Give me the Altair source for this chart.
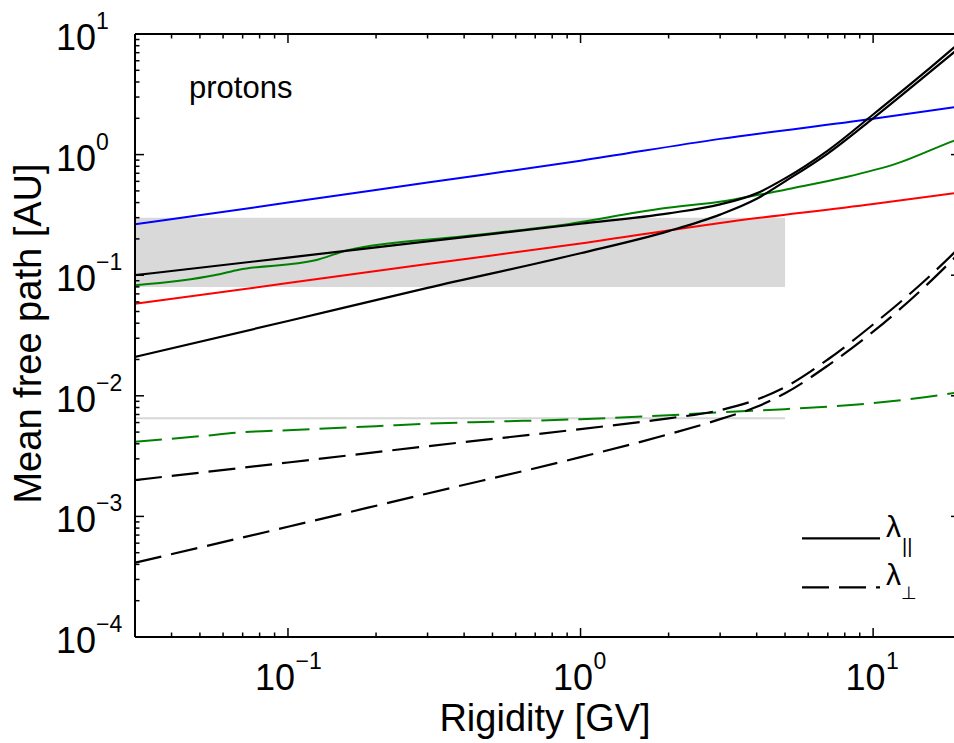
import altair as alt
import pandas as pd

FONT = "Liberation Sans"

# ---------------- data ----------------
X_BLUE = [0.03, 0.1, 0.3, 1, 3, 10, 20]
Y_BLUE = [0.264, 0.40, 0.586, 0.89, 1.35, 1.98, 2.52]

X_RED = [0.03, 0.1, 0.3, 1, 3, 10, 20]
Y_RED = [0.058, 0.086, 0.124, 0.183, 0.271, 0.389, 0.488]

X_PAR = [0.03, 0.1, 0.3, 1, 2, 3, 4, 5, 7, 10, 15, 20]
Y_PAR_A = [0.100, 0.140, 0.191, 0.267, 0.326, 0.387, 0.477, 0.635, 1.08, 2.15, 4.80, 8.7]
Y_PAR_B = [0.021, 0.0417, 0.0785, 0.152, 0.232, 0.318, 0.43, 0.600, 1.02, 2.00, 4.45, 7.9]

X_GREEN = [0.03, 0.056, 0.068, 0.124, 0.16, 0.4, 0.85, 1.87, 3.16, 5.2, 8.1, 12, 19, 20]
Y_GREEN = [0.0824, 0.0998, 0.111, 0.133, 0.161, 0.210, 0.259, 0.355, 0.415, 0.522, 0.651, 0.841, 1.31, 1.37]

X_GREEN_PERP = [0.03, 0.05, 0.07, 0.1, 0.2, 0.3, 0.5, 1, 2, 3, 5, 10, 15, 20]
Y_GREEN_PERP = [0.00415, 0.00462, 0.00499, 0.00519, 0.0056, 0.00588, 0.0061, 0.0064,
                0.0069, 0.00731, 0.00775, 0.00869, 0.00973, 0.0108]

X_PERP = [0.03, 0.1, 0.3, 1, 2, 3, 4, 5, 7, 10, 15, 20]
Y_PERP_C = [0.0020, 0.0028, 0.00382, 0.0053, 0.0065, 0.0076, 0.0093, 0.0118, 0.020, 0.039, 0.090, 0.175]
Y_PERP_D = [0.000413, 0.00082, 0.00155, 0.0031, 0.0048, 0.0064, 0.0081, 0.0105, 0.0178, 0.034, 0.080, 0.158]

BAND_X = [0.03, 5]
BAND_Y = [0.08, 0.3]
HLINE_X = [0.03, 5]
HLINE_Y = [0.0065, 0.0065]

X_DECADES = [0.1, 1, 10]
X_EXPONENTS = ["\u22121", "0", "1"]
Y_DECADES = [1e-4, 1e-3, 1e-2, 1e-1, 1, 10]
Y_EXPONENTS = ["\u22124", "\u22123", "\u22122", "\u22121", "0", "1"]
X_MINOR = [0.04, 0.05, 0.06, 0.07, 0.08, 0.09, 0.2, 0.3, 0.4, 0.5, 0.6, 0.7, 0.8, 0.9,
           2, 3, 4, 5, 6, 7, 8, 9]
Y_MINOR = [m * 10.0 ** k for k in range(-4, 1) for m in range(2, 10)]

# ---------------- layout ----------------
W, H = 819, 603
XS = alt.Scale(type="log", domain=[0.03, 18.9], nice=False)
YS = alt.Scale(type="log", domain=[1e-4, 10], nice=False)

XAXIS = alt.Axis(title="Rigidity [GV]", labels=False, ticks=False, domain=False, grid=False,
                 titleFont=FONT, titleFontSize=38, titleFontWeight="normal", titleColor="black",
                 titleX=409.5, titleY=93, titleAlign="center", titleBaseline="alphabetic")
YAXIS = alt.Axis(title="Mean free path [AU]", labels=False, ticks=False, domain=False, grid=False,
                 titleFont=FONT, titleFontSize=38, titleFontWeight="normal", titleColor="black",
                 titleAngle=270, titleX=-95, titleY=299, titleAlign="center",
                 titleBaseline="alphabetic")


def XE(f):
    return alt.X(f"{f}:Q", scale=XS, axis=XAXIS)


def YE(f):
    return alt.Y(f"{f}:Q", scale=YS, axis=YAXIS)


def line(xs, ys, color, dash=None, width=2):
    df = pd.DataFrame({"x": xs, "y": ys})
    kw = dict(color=color, strokeWidth=width, clip=True, interpolate="monotone")
    if dash:
        kw["strokeDash"] = dash
    return alt.Chart(df).mark_line(**kw).encode(x=XE("x"), y=YE("y"))


one = pd.DataFrame({"a": [0]})
layers = []

# gray band and gray reference line
band_df = pd.DataFrame({"x": [BAND_X[0]], "x2": [BAND_X[1]], "y": [BAND_Y[0]], "y2": [BAND_Y[1]]})
layers.append(alt.Chart(band_df).mark_rect(color="#d9d9d9").encode(
    x=XE("x"), x2="x2", y=YE("y"), y2="y2"))
layers.append(alt.Chart(pd.DataFrame({"x": HLINE_X, "y": HLINE_Y})).mark_line(
    color="#d6d6d6", strokeWidth=2).encode(x=XE("x"), y=YE("y")))

DASH = [27, 10]
layers.append(line(X_RED, Y_RED, "#ff0000"))
layers.append(line(X_BLUE, Y_BLUE, "#0000ff"))
layers.append(line(X_GREEN, Y_GREEN, "#008000"))
layers.append(line(X_GREEN_PERP, Y_GREEN_PERP, "#008000", DASH))
layers.append(line(X_PAR, Y_PAR_A, "black", width=2.2))
layers.append(line(X_PAR, Y_PAR_B, "black", width=2.2))
layers.append(line(X_PERP, Y_PERP_C, "black", DASH, width=2.2))
layers.append(line(X_PERP, Y_PERP_D, "black", DASH, width=2.2))

# frame (left, top, bottom)
layers.append(alt.Chart(one).mark_rule(color="black", strokeWidth=2).encode(
    x=alt.value(0), y=alt.value(0), y2=alt.value(H)))
layers.append(alt.Chart(one).mark_rule(color="black", strokeWidth=2).encode(
    x=alt.value(0), x2=alt.value(W), y=alt.value(0)))
layers.append(alt.Chart(one).mark_rule(color="black", strokeWidth=2).encode(
    x=alt.value(0), x2=alt.value(W), y=alt.value(H)))

# inward ticks
mx = pd.DataFrame({"v": X_DECADES})
nx = pd.DataFrame({"v": X_MINOR})
my = pd.DataFrame({"v": Y_DECADES})
ny = pd.DataFrame({"v": Y_MINOR})
TK = dict(color="black", strokeWidth=1.5)
layers.append(alt.Chart(mx).mark_rule(**TK).encode(x=XE("v"), y=alt.value(H), y2=alt.value(H - 9)))
layers.append(alt.Chart(nx).mark_rule(**TK).encode(x=XE("v"), y=alt.value(H), y2=alt.value(H - 4.5)))
layers.append(alt.Chart(mx).mark_rule(**TK).encode(x=XE("v"), y=alt.value(0), y2=alt.value(9)))
layers.append(alt.Chart(nx).mark_rule(**TK).encode(x=XE("v"), y=alt.value(0), y2=alt.value(4.5)))
layers.append(alt.Chart(my).mark_rule(**TK).encode(y=YE("v"), x=alt.value(0), x2=alt.value(9)))
layers.append(alt.Chart(ny).mark_rule(**TK).encode(y=YE("v"), x=alt.value(0), x2=alt.value(4.5)))
layers.append(alt.Chart(my).mark_rule(**TK).encode(y=YE("v"), x=alt.value(W - 3), x2=alt.value(W)))

# tick labels 10^n
xl = pd.DataFrame({"v": X_DECADES, "e": X_EXPONENTS})
xl_neg = xl[xl["e"].str.startswith("\u2212")]
xl_pos = xl[~xl["e"].str.startswith("\u2212")]
BASE_T = dict(font=FONT, color="black", baseline="alphabetic")
for sub, d10, dexp in ((xl_neg, 7, 7.5), (xl_pos, 12.5, 13)):
    layers.append(alt.Chart(sub).mark_text(align="right", fontSize=36, dx=d10, **BASE_T).encode(
        x=XE("v"), y=alt.value(H + 53), text=alt.value("10")))
    layers.append(alt.Chart(sub).mark_text(align="left", fontSize=23, dx=dexp, **BASE_T).encode(
        x=XE("v"), y=alt.value(H + 32), text="e:N"))

yl = pd.DataFrame({"v": Y_DECADES, "e": Y_EXPONENTS})
layers.append(alt.Chart(yl).mark_text(align="left", fontSize=36, dy=16, **BASE_T).encode(
    y=YE("v"), x=alt.value(-79), text=alt.value("10")))
layers.append(alt.Chart(yl).mark_text(align="left", fontSize=23, dy=-5, **BASE_T).encode(
    y=YE("v"), x=alt.value(-39), text="e:N"))

# annotation and legend
layers.append(alt.Chart(one).mark_text(align="left", fontSize=31, **BASE_T).encode(
    x=alt.value(54), y=alt.value(64), text=alt.value("protons")))
layers.append(alt.Chart(one).mark_rule(color="black", strokeWidth=2.2).encode(
    x=alt.value(667), x2=alt.value(745), y=alt.value(504.3)))
layers.append(alt.Chart(one).mark_rule(color="black", strokeWidth=2.2, strokeDash=DASH).encode(
    x=alt.value(667), x2=alt.value(745), y=alt.value(553.3)))
layers.append(alt.Chart(one).mark_text(align="left", fontSize=30, **BASE_T).encode(
    x=alt.value(751), y=alt.value(502.7), text=alt.value("\u03bb")))
layers.append(alt.Chart(one).mark_text(align="left", fontSize=20, **BASE_T).encode(
    x=alt.value(767), y=alt.value(519), text=alt.value("||")))
layers.append(alt.Chart(one).mark_text(align="left", fontSize=30, **BASE_T).encode(
    x=alt.value(751), y=alt.value(551), text=alt.value("\u03bb")))
layers.append(alt.Chart(one).mark_text(align="left", fontSize=18, font="DejaVu Sans", color="black",
                                       baseline="alphabetic").encode(
    x=alt.value(766), y=alt.value(565), text=alt.value("\u22a5")))

chart = alt.layer(*layers).properties(
    width=W, height=H,
    padding={"left": 135, "top": 34, "right": 0, "bottom": 106},
    autosize=alt.AutoSizeParams(type="none"),
).configure(font=FONT, background="white").configure_view(stroke=None)

chart.save("out.html", embed_options={"renderer": "svg", "actions": False})
